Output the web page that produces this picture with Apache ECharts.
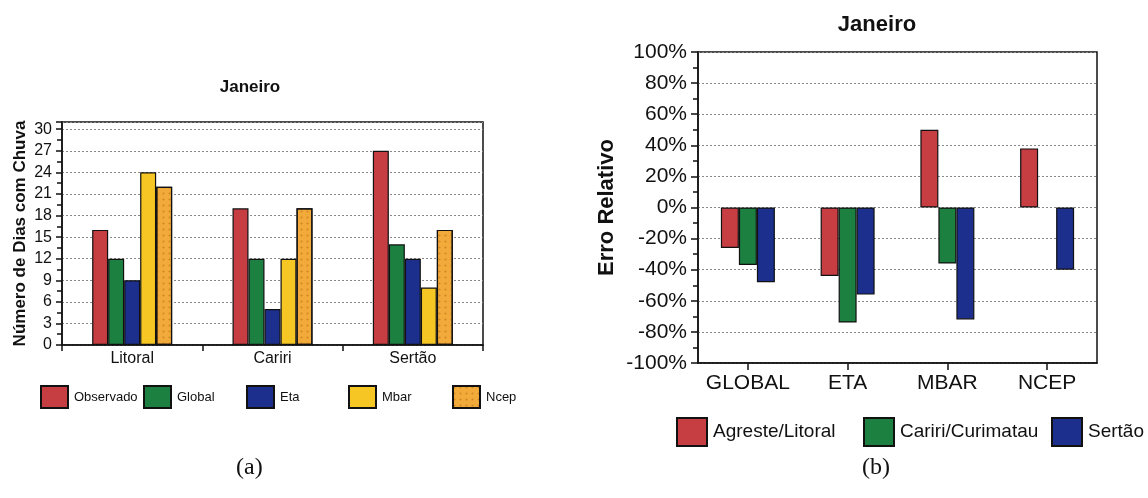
<!DOCTYPE html>
<html>
<head>
<meta charset="utf-8">
<script src="https://cdn.jsdelivr.net/npm/echarts@6/dist/echarts.min.js"></script>
<style>
html,body{margin:0;padding:0;background:#fff;}
#c{width:1148px;height:498px;}
</style>
</head>
<body>
<div id="c"></div>
<script>
// ---- data (a) ----
const regionsA = ['Litoral', 'Cariri', 'Sertão'];
const observado = [16, 19, 27];
const globalA = [12, 12, 14];
const etaA = [9, 5, 12];
const mbarA = [24, 12, 8];
const ncepA = [22, 19, 16];
// ---- data (b) ----
const modelsB = ['GLOBAL', 'ETA', 'MBAR', 'NCEP'];
const agresteLitoral = [-26, -44, 50, 38];
const caririCurimatau = [-37, -74, -36, null];
const sertaoB = [-48, -56, -72, -40];

const FONT = '"Liberation Sans", Arial, sans-serif';
const RED = '#c63d42', GREEN = '#1b8040', BLUE = '#1c2f8c', YELLOW = '#f6c624', ORANGE = '#f2ab3a';
const border = {borderColor: '#111', borderWidth: 1.2};

const chart = echarts.init(document.getElementById('c'), null, {renderer: 'canvas'});

function barA(name, data, color, extra) {
  return Object.assign({
    name: name, type: 'bar', xAxisIndex: 0, yAxisIndex: 0, data: data,
    barWidth: 16, barGap: '0%',
    itemStyle: Object.assign({color: color}, border)
  }, extra || {});
}
function barB(name, data, color) {
  return {
    name: name, type: 'bar', xAxisIndex: 1, yAxisIndex: 1, data: data,
    barWidth: 18, barGap: '0%',
    itemStyle: Object.assign({color: color}, border)
  };
}
function legendAt(name, left, top, w, h, fs) {
  return {
    data: [name], left: left, top: top, padding: 0, itemWidth: w, itemHeight: h,
    selectedMode: false, icon: 'rect',
    textStyle: {fontFamily: FONT, fontSize: fs, color: '#111', padding: [0, 0, 0, 1]}
  };
}

const option = {
  animation: false,
  backgroundColor: '#fff',
  title: [
    {text: 'Janeiro', left: 245, top: 74, textAlign: 'center',
     textStyle: {fontFamily: FONT, fontSize: 17, fontWeight: 'bold', color: '#111'}},
    {text: 'Janeiro', left: 872, top: 9, textAlign: 'center',
     textStyle: {fontFamily: FONT, fontSize: 22, fontWeight: 'bold', color: '#111'}}
  ],
  legend: [
    legendAt('Observado', 40, 385, 27, 22, 13),
    legendAt('Global', 143, 385, 27, 22, 13),
    legendAt('Eta', 246, 385, 27, 22, 13),
    legendAt('Mbar', 348, 385, 27, 22, 13),
    legendAt('Ncep', 452, 385, 27, 22, 13),
    legendAt('Agreste/Litoral', 676, 417, 30, 28, 19),
    legendAt('Cariri/Curimatau', 863, 417, 30, 28, 19),
    legendAt('Sertão ', 1051, 417, 30, 28, 19)
  ],
  grid: [
    {left: 62, top: 122, width: 421, height: 223, show: true, borderColor: '#111', borderWidth: 1.5, containLabel: false},
    {left: 698, top: 52, width: 399, height: 311, show: true, borderColor: '#111', borderWidth: 1.5, containLabel: false}
  ],
  xAxis: [
    {type: 'category', gridIndex: 0, data: regionsA,
     axisLine: {lineStyle: {color: '#111', width: 1.5}},
     axisTick: {show: true, length: 6, interval: 0, lineStyle: {color: '#111', width: 1.5}, alignWithLabel: false},
     axisLabel: {fontFamily: FONT, fontSize: 16, color: '#111', margin: 6, interval: 0}},
    {type: 'category', gridIndex: 1, data: modelsB, position: 'bottom',
     axisLine: {onZero: false, lineStyle: {color: '#111', width: 1.5}},
     axisTick: {show: true, length: 7, interval: 0, alignWithLabel: true, lineStyle: {color: '#111', width: 1.5}},
     axisLabel: {fontFamily: FONT, fontSize: 21, color: '#111', margin: 10, interval: 0}}
  ],
  yAxis: [
    {type: 'value', gridIndex: 0, min: 0, max: 31, interval: 3,
     name: 'Número de Dias com Chuva', nameLocation: 'middle', nameGap: 33,
     nameTextStyle: {fontFamily: FONT, fontSize: 17, fontWeight: 'bold', color: '#111'},
     axisLine: {show: true, lineStyle: {color: '#111', width: 1.5}},
     axisTick: {show: true, length: 6, lineStyle: {color: '#111', width: 1.5}},
     minorTick: {show: true, splitNumber: 2, length: 5, lineStyle: {color: '#111', width: 1.5}},
     axisLabel: {fontFamily: FONT, fontSize: 16, color: '#111', margin: 10,
       formatter: v => (v % 3 === 0 ? String(v) : '')},
     splitLine: {show: true, lineStyle: {color: '#888', type: [2, 2], width: 1}}},
    {type: 'value', gridIndex: 1, min: -100, max: 100, interval: 20,
     name: 'Erro Relativo', nameLocation: 'middle', nameGap: 80,
     nameTextStyle: {fontFamily: FONT, fontSize: 22, fontWeight: 'bold', color: '#111'},
     axisLine: {show: true, lineStyle: {color: '#111', width: 1.5}},
     axisTick: {show: true, length: 7, lineStyle: {color: '#111', width: 1.5}},
     minorTick: {show: true, splitNumber: 2, length: 5, lineStyle: {color: '#111', width: 1.5}},
     axisLabel: {fontFamily: FONT, fontSize: 21, color: '#111', margin: 11, formatter: '{value}%'},
     splitLine: {show: true, lineStyle: {color: '#888', type: [2, 2], width: 1}}}
  ],
  series: [
    barA('Observado', observado, RED),
    barA('Global', globalA, GREEN),
    barA('Eta', etaA, BLUE),
    barA('Mbar', mbarA, YELLOW),
    {
      name: 'Ncep', type: 'bar', xAxisIndex: 0, yAxisIndex: 0, data: ncepA,
      barWidth: 16, barGap: '0%',
      itemStyle: Object.assign({color: ORANGE,
        decal: {symbol: 'circle', symbolSize: 0.7, color: 'rgba(170,90,10,0.45)', dashArrayX: 3, dashArrayY: 3}}, border)
    },
    barB('Agreste/Litoral', agresteLitoral, RED),
    barB('Cariri/Curimatau', caririCurimatau, GREEN),
    barB('Sertão ', sertaoB, BLUE)
  ],
  graphic: [
    {type: 'text', left: 236, top: 456, style: {text: '(a)', font: '24px "Liberation Serif", "Times New Roman", serif', fill: '#111'}},
    {type: 'text', left: 862, top: 456, style: {text: '(b)', font: '24px "Liberation Serif", "Times New Roman", serif', fill: '#111'}}
  ]
};
chart.setOption(option);
</script>
</body>
</html>
